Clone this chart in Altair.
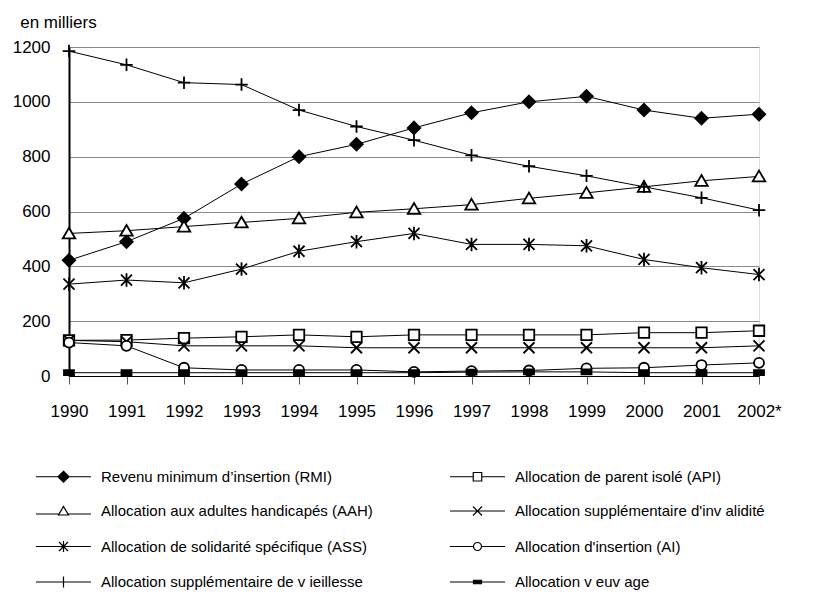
import altair as alt
import pandas as pd

years = ["1990", "1991", "1992", "1993", "1994", "1995", "1996",
         "1997", "1998", "1999", "2000", "2001", "2002*"]

series = [
    "Revenu minimum d\u2019insertion (RMI)",
    "Allocation de parent isolé (API)",
    "Allocation aux adultes handicapés (AAH)",
    "Allocation supplémentaire d'inv alidité",
    "Allocation de solidarité spécifique (ASS)",
    "Allocation d'insertion (AI)",
    "Allocation supplémentaire de v ieillesse",
    "Allocation v euv age",
]

rmi = [422, 490, 575, 700, 800, 845, 905, 960, 1000, 1020, 970, 940, 955]
api = [130, 131, 138, 143, 150, 143, 150, 150, 150, 150, 158, 158, 165]
aah = [520, 530, 545, 560, 575, 597, 610, 625, 648, 668, 690, 712, 728]
asi = [130, 125, 110, 110, 110, 103, 103, 103, 103, 103, 103, 103, 110]
ass = [335, 350, 340, 390, 455, 490, 520, 480, 480, 475, 425, 395, 370]
ai = [122, 110, 30, 22, 22, 22, 15, 18, 20, 28, 30, 40, 48]
asv = [1185, 1135, 1070, 1063, 970, 910, 860, 805, 765, 730, 690, 650, 605]
veuvage = [12, 12, 12, 12, 12, 12, 12, 14, 15, 15, 12, 12, 12]

values = [rmi, api, aah, asi, ass, ai, asv, veuvage]

rows = []
for name, vals in zip(series, values):
    for yr, v in zip(years, vals):
        rows.append({"annee": yr, "serie": name, "valeur": v})
df = pd.DataFrame(rows)

# marker shapes (unit paths, scaled by Vega)
marker_paths = [
    "M0,-1.25L1.25,0L0,1.25L-1.25,0Z",                      # diamond
    "M-1.05,-1.05H1.05V1.05H-1.05Z",                         # square
    "M0,-1.15L1.25,1L-1.25,1Z",                              # triangle
    "M-1.1,-1.1L1.1,1.1M-1.1,1.1L1.1,-1.1",                  # x
    "M-1.1,-1.1L1.1,1.1M-1.1,1.1L1.1,-1.1M0,-1.35V1.35",     # asterisk
    "M-1,0A1,1 0 1,1 1,0A1,1 0 1,1 -1,0Z",                   # circle
    "M-1.25,0H1.25M0,-1.25V1.25",                            # plus
    "M-1,-0.5H1V0.5H-1Z",                                    # small bar
]
legend_paths = [
    "M-5.5,0H5.5M0,-1.1L1.1,0L0,1.1L-1.1,0Z",
    "M-5.5,0H-0.85M0.85,0H5.5M-0.85,-0.85H0.85V0.85H-0.85Z",
    "M-5.5,0.6H-1M1,0.6H5.5M0,-0.9L1,0.8L-1,0.8Z",
    "M-5.5,0H5.5M-0.9,-0.9L0.9,0.9M-0.9,0.9L0.9,-0.9",
    "M-5.5,0H5.5M-0.9,-0.9L0.9,0.9M-0.9,0.9L0.9,-0.9M0,-1.1V1.1",
    "M-5.5,0H-0.8M0.8,0H5.5M-0.8,0A0.8,0.8 0 1,1 0.8,0A0.8,0.8 0 1,1 -0.8,0Z",
    "M-5.5,0H5.5M0,-1.1V1.1",
    "M-5.5,0H5.5M-0.8,-0.35H0.8V0.35H-0.8Z",
]
fills = ["black", "white", "white", "transparent", "transparent", "white",
         "transparent", "black"]

# legend is laid out column by column
legend_order = [0, 2, 4, 6, 1, 3, 5, 7]
legend_domain = [series[i] for i in legend_order]
legend_shapes = [legend_paths[i] for i in legend_order]
legend_fills = [fills[i] for i in legend_order]

FONT = "Liberation Sans"

x_enc = alt.X("annee:O", sort=years,
              scale=alt.Scale(padding=0),
              axis=alt.Axis(title=None, labelAngle=0, labelFont=FONT,
                            labelFontSize=17, labelColor="black",
                            tickSize=8, tickColor="#555555",
                            domainColor="black", labelPadding=19, grid=False))
y_enc = alt.Y("valeur:Q",
              scale=alt.Scale(domain=[0, 1200], nice=False),
              axis=alt.Axis(title=None, values=[0, 200, 400, 600, 800, 1000, 1200],
                            format="d",
                            labelFont=FONT, labelFontSize=17, labelColor="black",
                            ticks=False, labelPadding=19, domainColor="black",
                            domainWidth=2, grid=True, gridColor="#8a8a8a"))

base = alt.Chart(df)

lines = base.mark_line(color="black", strokeWidth=1).encode(
    x=x_enc, y=y_enc, detail="serie:N", order=alt.Order("annee:O"))

points = base.mark_point(filled=True, stroke="black", strokeWidth=1.8,
                         size=100, opacity=1).encode(
    x=x_enc, y=y_enc,
    shape=alt.Shape("serie:N", scale=alt.Scale(domain=series, range=marker_paths),
                    legend=None),
    fill=alt.Fill("serie:N", scale=alt.Scale(domain=series, range=fills),
                  legend=None),
)

leg = alt.Legend(title=None, orient="none", legendX=-13, legendY=422,
                 columns=2, columnPadding=74, rowPadding=18.5, labelFont=FONT,
                 labelFontSize=15, labelColor="black", labelOffset=30,
                 symbolSize=100, symbolStrokeWidth=1.2, labelLimit=400)

legend_layer = base.transform_filter("false").mark_point(
    filled=True, strokeWidth=1.2, size=100, opacity=1).encode(
    x=x_enc, y=y_enc,
    shape=alt.Shape("serie:N",
                    scale=alt.Scale(domain=legend_domain, range=legend_shapes),
                    legend=leg),
    fill=alt.Fill("serie:N",
                  scale=alt.Scale(domain=legend_domain, range=legend_fills),
                  legend=leg),
    stroke=alt.Stroke("serie:N",
                      scale=alt.Scale(domain=legend_domain, range=["black"] * 8),
                      legend=leg),
)

chart = alt.layer(lines, points, legend_layer).resolve_scale(
    shape="independent", fill="independent", stroke="independent"
).properties(
    width=690, height=329,
    title=alt.TitleParams("en milliers", anchor="start", font=FONT, fontSize=17,
                          fontWeight="normal", color="black", dx=8, offset=6),
    autosize=alt.AutoSizeParams(type="none"),
    padding={"left": 61, "top": 39, "right": 46, "bottom": 222},
).configure_view(stroke="black", strokeWidth=1).configure(background="white")

chart.save("out.html", embed_options={"renderer": "svg", "actions": False})
